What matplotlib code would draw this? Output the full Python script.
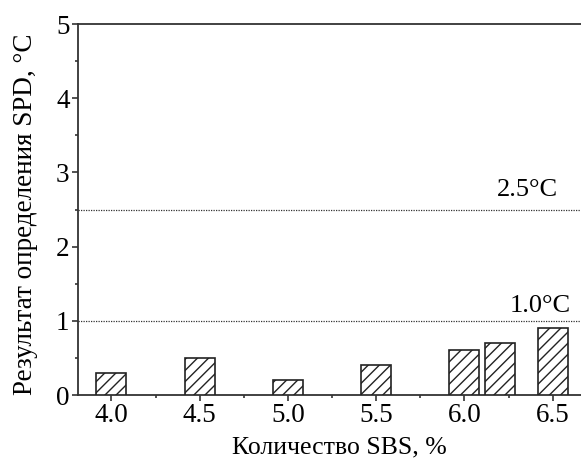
import matplotlib
matplotlib.use("Agg")
import matplotlib.pyplot as plt
from matplotlib.ticker import MultipleLocator

plt.rcParams['font.family'] = ['Liberation Serif', 'DejaVu Serif']
plt.rcParams['hatch.linewidth'] = 1.0

sbs = [4.0, 4.5, 5.0, 5.5, 6.0, 6.2, 6.5]
spd = [0.3, 0.5, 0.2, 0.4, 0.6, 0.7, 0.9]
limits = [2.5, 1.0]
limit_labels = ["2.5°C", "1.0°C"]
xticks = [4.0, 4.5, 5.0, 5.5, 6.0, 6.5]

fig = plt.figure(figsize=(5.81, 4.62), dpi=100)
ax = fig.add_axes([0.134, 0.145, 0.866, 0.803])

ax.bar(sbs, spd, width=0.17, facecolor='white', edgecolor='#222222',
       linewidth=1.2, hatch='///', zorder=3)

label_x = [6.53, 6.60]
label_off = [0.12, 0.05]
for lim, lab, lx, off in zip(limits, limit_labels, label_x, label_off):
    ax.axhline(lim, color='#333333', linestyle=(0, (1, 1)), linewidth=0.9, zorder=2)
    ax.text(lx, lim + off, lab, ha='right', va='bottom', fontsize=19)

ax.set_xlim(3.81, 6.66)
ax.set_ylim(0, 5)
ax.set_xticks(xticks)
ax.set_xticklabels([f"{t:.1f}" for t in xticks])
ax.xaxis.set_minor_locator(MultipleLocator(0.25))
ax.yaxis.set_major_locator(MultipleLocator(1))
ax.yaxis.set_minor_locator(MultipleLocator(0.5))

for s in ['left', 'bottom', 'top']:
    ax.spines[s].set_linewidth(1.3)
    ax.spines[s].set_color('#333333')
ax.spines['right'].set_visible(False)

ax.tick_params(which='major', direction='out', length=4, width=1.2,
               labelsize=19.5, pad=2, colors='#333333', labelcolor='black')
ax.tick_params(which='minor', direction='out', length=2.5, width=1.2, colors='#333333')
ax.tick_params(top=False, right=False, which='both')

ax.set_xlabel("Количество SBS, %", fontsize=18.5)
ax.xaxis.set_label_coords(0.52, -0.112)
ax.set_ylabel("Результат определения SPD, °C", fontsize=19.5)
ax.yaxis.set_label_coords(-0.08, 0.487)

fig.savefig("out.png", dpi=100)
